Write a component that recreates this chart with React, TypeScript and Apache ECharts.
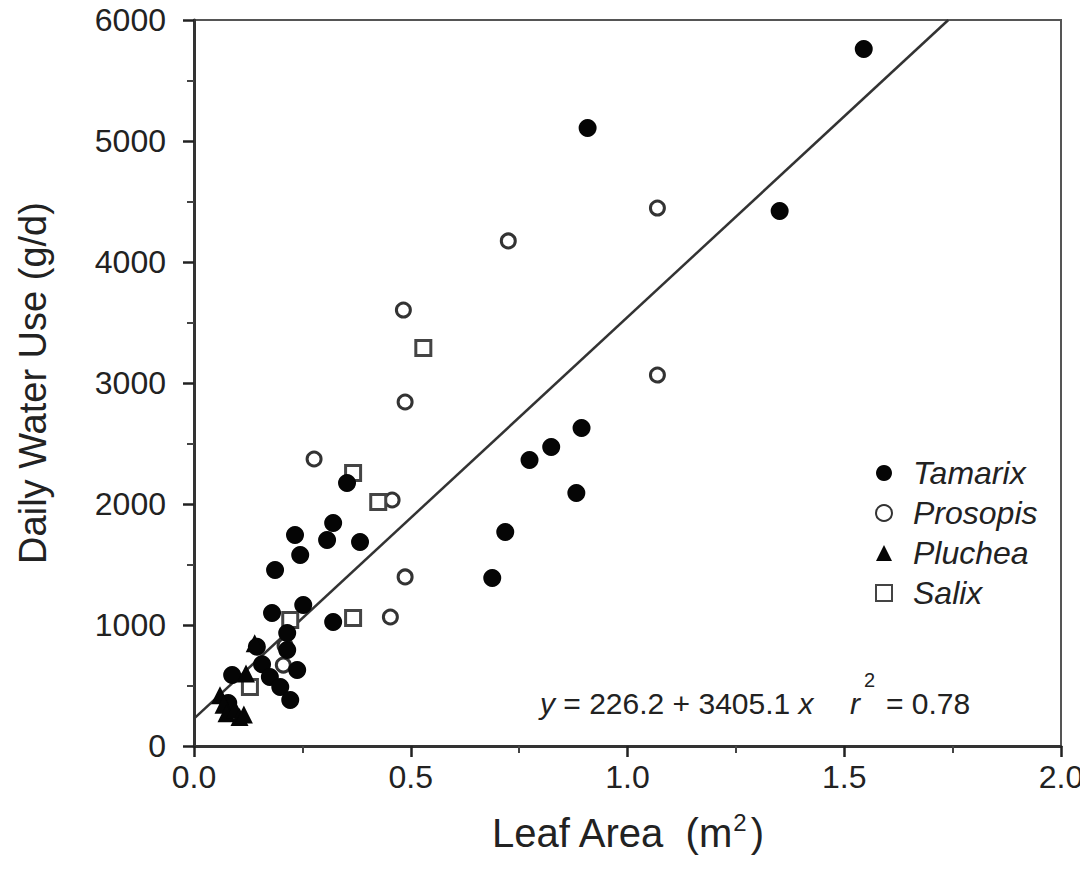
import React, { useEffect, useRef } from "react";
import * as echarts from "echarts";

const FONT = "'Liberation Sans', Arial, Helvetica, sans-serif";

// Leaf area (m2), daily water use (g/d)
const tamarix: number[][] = [
  [1.545, 5760], [0.908, 5107], [1.351, 4421], [0.894, 2628], [0.824, 2471],
  [0.774, 2364], [0.882, 2091], [0.718, 1769], [0.688, 1388],
  [0.353, 2174], [0.321, 1843], [0.307, 1702], [0.233, 1744], [0.245, 1579],
  [0.383, 1686], [0.187, 1455], [0.252, 1165], [0.18, 1099], [0.321, 1025],
  [0.215, 934], [0.145, 820], [0.157, 675], [0.088, 587], [0.215, 793],
  [0.238, 628], [0.175, 570], [0.199, 488], [0.222, 380], [0.079, 355],
];
const prosopis: number[][] = [
  [1.069, 4446], [0.725, 4174], [0.483, 3603], [0.487, 2843], [1.069, 3066],
  [0.487, 1397], [0.453, 1066], [0.277, 2372], [0.457, 2033], [0.206, 669],
  [0.21, 830],
];
const pluchea: number[][] = [
  [0.06, 420], [0.068, 340], [0.075, 270], [0.095, 300], [0.105, 240],
  [0.115, 260], [0.14, 850], [0.12, 600],
];
const salix: number[][] = [
  [0.529, 3289], [0.367, 2256], [0.425, 2017], [0.367, 1058], [0.129, 488],
  [0.222, 1041],
];
// regression line as drawn
const fitLine: number[][] = [[0, 226.2], [1.74, 6000]];
const legendNames = ["Tamarix", "Prosopis", "Pluchea", "Salix"];

export default function App() {
  const ref = useRef<HTMLDivElement>(null);
  useEffect(() => {
    if (!ref.current) return;
    const chart = echarts.init(ref.current, undefined, { renderer: "svg" });
    const mainAxis = {
      axisLine: { show: true, onZero: false, lineStyle: { color: "#333", width: 3 } },
      axisTick: { show: true, inside: false, length: 11, lineStyle: { color: "#222", width: 2.5 } },
      minorTick: { show: true, splitNumber: 2, length: 7, lineStyle: { color: "#444", width: 2 } },
      splitLine: { show: false },
      minorSplitLine: { show: false },
    };
    chart.setOption({
      animation: false,
      backgroundColor: "#fff",
      grid: { left: 194, right: 27, top: 20, bottom: 132, show: true, borderColor: "#555", borderWidth: 2 },
      xAxis: {
        type: "value",
        min: 0,
        max: 2,
        interval: 0.5,
        ...mainAxis,
        axisLabel: {
          formatter: (v: number) => v.toFixed(1),
          fontSize: 32,
          color: "#222",
          margin: 15,
          fontFamily: FONT,
        },
        name: "Leaf Area  (m{sup|2})",
        nameLocation: "middle",
        nameGap: 64,
        nameTextStyle: {
          fontSize: 40,
          color: "#222",
          fontFamily: FONT,
          rich: { sup: { fontSize: 24, color: "#222", fontFamily: FONT, padding: [0, 4, 22, 0] } },
        },
      },
      yAxis: {
        type: "value",
        min: 0,
        max: 6000,
        interval: 1000,
        ...mainAxis,
        axisLabel: {
          formatter: (v: number) => String(v),
          fontSize: 32,
          color: "#222",
          margin: 28,
          fontFamily: FONT,
        },
        name: "Daily Water Use (g/d)",
        nameLocation: "middle",
        nameGap: 142,
        nameTextStyle: { fontSize: 38, color: "#222", fontFamily: FONT },
      },
      legend: {
        data: legendNames,
        orient: "vertical",
        left: 870,
        top: 452,
        itemWidth: 16,
        itemHeight: 16,
        itemGap: 8,
        textStyle: {
          fontSize: 32,
          fontStyle: "italic",
          color: "#222",
          fontFamily: FONT,
          padding: [0, 0, 0, 16],
        },
      },
      graphic: [
        {
          type: "text",
          left: 540,
          top: 688,
          style: {
            text: "{i|y} = 226.2 + 3405.1 {i|x}",
            fontSize: 30,
            fill: "#222",
            fontFamily: FONT,
            rich: { i: { fontStyle: "italic", fontSize: 30, fill: "#222", fontFamily: FONT } },
          },
        },
        {
          type: "text",
          left: 850,
          top: 688,
          style: { text: "r", fontSize: 30, fontStyle: "italic", fill: "#222", fontFamily: FONT },
        },
        {
          type: "text",
          left: 864,
          top: 670,
          style: { text: "2", fontSize: 20, fill: "#222", fontFamily: FONT },
        },
        {
          type: "text",
          left: 886,
          top: 688,
          style: { text: "= 0.78", fontSize: 30, fill: "#222", fontFamily: FONT },
        },
      ],
      series: [
        {
          type: "line",
          name: "fit",
          data: fitLine,
          symbol: "none",
          lineStyle: { color: "#333", width: 2.5 },
          z: 1,
        },
        {
          type: "scatter",
          name: "Tamarix",
          data: tamarix,
          symbol: "circle",
          symbolSize: 18,
          itemStyle: { color: "#050505", borderColor: "#050505", borderWidth: 0, opacity: 1 },
          z: 3,
        },
        {
          type: "scatter",
          name: "Prosopis",
          data: prosopis,
          symbol: "circle",
          symbolSize: 14,
          itemStyle: { color: "#fff", borderColor: "#333", borderWidth: 3, opacity: 1 },
          z: 2,
        },
        {
          type: "scatter",
          name: "Pluchea",
          data: pluchea,
          symbol: "triangle",
          symbolSize: 18,
          itemStyle: { color: "#050505", opacity: 1 },
          z: 3,
        },
        {
          type: "scatter",
          name: "Salix",
          data: salix,
          symbol: "rect",
          symbolSize: 15,
          itemStyle: { color: "#fff", borderColor: "#444", borderWidth: 3, opacity: 1 },
          z: 2,
        },
      ],
    });
    return () => chart.dispose();
  }, []);
  return <div ref={ref} style={{ width: 1088, height: 878, margin: -8 }} />;
}
